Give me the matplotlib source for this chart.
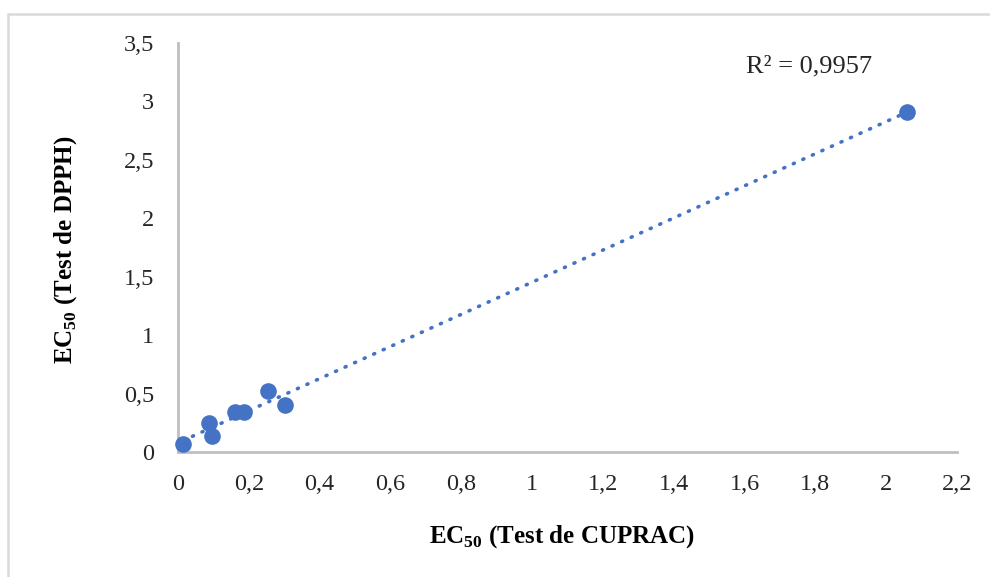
import numpy as np
import matplotlib
matplotlib.use('Agg')
import matplotlib.pyplot as plt
import matplotlib.patches as patches
from matplotlib.ticker import FuncFormatter

plt.rcParams['font.family'] = ['Liberation Serif', 'DejaVu Serif']
plt.rcParams['mathtext.fontset'] = 'custom'
plt.rcParams['mathtext.rm'] = 'Liberation Serif'
plt.rcParams['mathtext.bf'] = 'Liberation Serif:bold'

# EC50 values
ec50_cuprac = [0.014, 0.088, 0.095, 0.160, 0.186, 0.254, 0.302, 2.060]
ec50_dpph = [0.07, 0.25, 0.14, 0.34, 0.34, 0.52, 0.40, 2.91]
r2_text = 'R² = 0,9957'

x_ticks = np.arange(0, 2.21, 0.2)
y_ticks = np.arange(0, 3.51, 0.5)

blue = '#4472C4'
grey = '#BFBFBF'

fig = plt.figure(figsize=(9.9, 5.77), dpi=100)
ax = fig.add_axes([0.1798, 0.2166, 0.7869, 0.7089])

# trend line (least squares)
a, b = np.polyfit(ec50_cuprac, ec50_dpph, 1)
xs = np.array([min(ec50_cuprac), max(ec50_cuprac)])
ax.plot(xs, a * xs + b, linestyle=(0, (0.3, 2.6)), color=blue, lw=2.6,
        dash_capstyle='round', zorder=2)
ax.scatter(ec50_cuprac, ec50_dpph, s=120, color=blue, zorder=3,
           clip_on=False)

ax.set_xlim(0, 2.2)
ax.set_ylim(0, 3.5)
ax.set_xticks(x_ticks)
ax.set_yticks(y_ticks)

comma = FuncFormatter(lambda v, p: ('%g' % round(v, 2)).replace('.', ','))
ax.xaxis.set_major_formatter(comma)
ax.yaxis.set_major_formatter(comma)
ax.tick_params(length=0, labelsize=17.5, labelcolor='#262626')
ax.tick_params(axis='x', pad=16)
ax.tick_params(axis='y', pad=17)

for s in ['top', 'right']:
    ax.spines[s].set_visible(False)
for s in ['left', 'bottom']:
    ax.spines[s].set_color(grey)
    ax.spines[s].set_linewidth(2)

ax.text(1.605, 3.30, r2_text, fontsize=19, color='#262626', va='center')

fig.text(0.568, 0.07, r'EC$_{\mathbf{50}}$ (Test de CUPRAC)',
         fontsize=18, fontweight='bold', ha='center', va='center')
fig.text(0.066, 0.567, r'EC$_{\mathbf{50}}$ (Test de DPPH)',
         fontsize=18, fontweight='bold', ha='center', va='center',
         rotation=90)

# outer frame
fig.patches.append(patches.Rectangle((8 / 990, -0.05), 1.2, 1 - 14 / 577 + 0.05,
                                     transform=fig.transFigure, fill=False,
                                     edgecolor='#D9D9D9', lw=1.8))

fig.savefig('out.png', dpi=100)
